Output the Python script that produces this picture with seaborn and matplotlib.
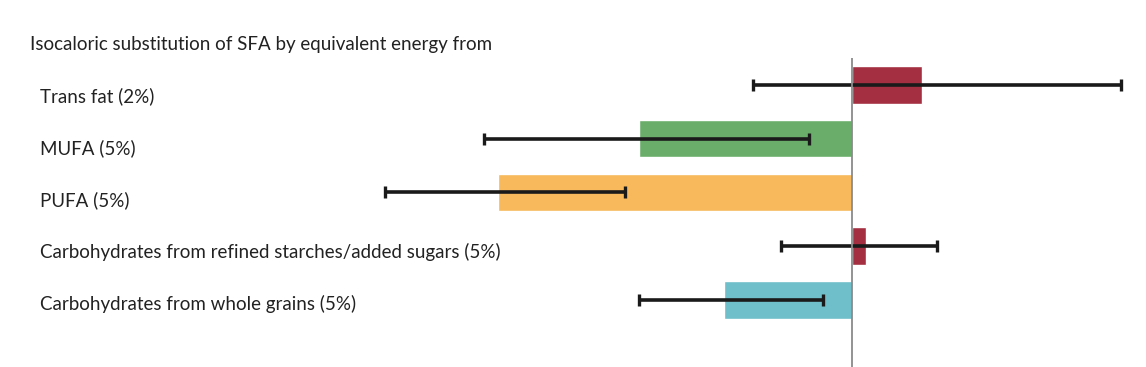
import numpy as np
import pandas as pd
import matplotlib.pyplot as plt
import matplotlib.transforms as mtransforms
import seaborn as sns

# % change in risk when 5% (2% for trans fat) of energy from SFA is replaced
categories = [
    'Trans fat (2%)',
    'MUFA (5%)',
    'PUFA (5%)',
    'Carbohydrates from refined starches/added sugars (5%)',
    'Carbohydrates from whole grains (5%)',
]
estimate = [5.0, -15.0, -25.0, 1.0, -9.0]
ci_low = [-7.0, -26.0, -33.0, -5.0, -15.0]
ci_high = [19.0, -3.0, -16.0, 6.0, -2.0]
bar_colors = ['#A32F40', '#6AAD6A', '#F7B95B', '#A32F40', '#6EBFC9']

title = 'Isocaloric substitution of SFA by equivalent energy from'

df = pd.DataFrame({'category': categories, 'estimate': estimate,
                   'low': ci_low, 'high': ci_high})

sns.set_style('white')
plt.rcParams['font.family'] = ['Lato', 'DejaVu Sans']

fig = plt.figure(figsize=(11.46, 3.67), dpi=100)
ax = fig.add_axes([0, 0, 1, 0.842])

sns.barplot(data=df, y='category', x='estimate', hue='category',
            palette=bar_colors, orient='h', width=0.7, legend=False,
            errorbar=None, saturation=1, ax=ax)

xerr = np.vstack([df['estimate'] - df['low'], df['high'] - df['estimate']])
ax.errorbar(df['estimate'], np.arange(len(df)), xerr=xerr, fmt='none',
            ecolor='#1a1a1a', elinewidth=2.6, capsize=4, capthick=2.4,
            zorder=5)

ax.axvline(0, color='#8a8a8a', lw=1.3, zorder=6)

ax.set_xlim(-60.2, 20.8)
ax.set_ylim(5.25, -0.5)
ax.set_xticks([])
ax.set_yticks([])
ax.set_xlabel('')
ax.set_ylabel('')
sns.despine(ax=ax, left=True, bottom=True, top=True, right=True)

trans = mtransforms.blended_transform_factory(ax.transAxes, ax.transData)
for i, label in enumerate(categories):
    ax.text(0.035, i * 0.963 + 0.22, label, transform=trans, ha='left',
            va='center', fontsize=13.5, color='#222222')

fig.text(0.026, 0.88, title, ha='left', va='center', fontsize=13.5,
         color='#222222')

fig.savefig('out.png', dpi=100, facecolor='white')
